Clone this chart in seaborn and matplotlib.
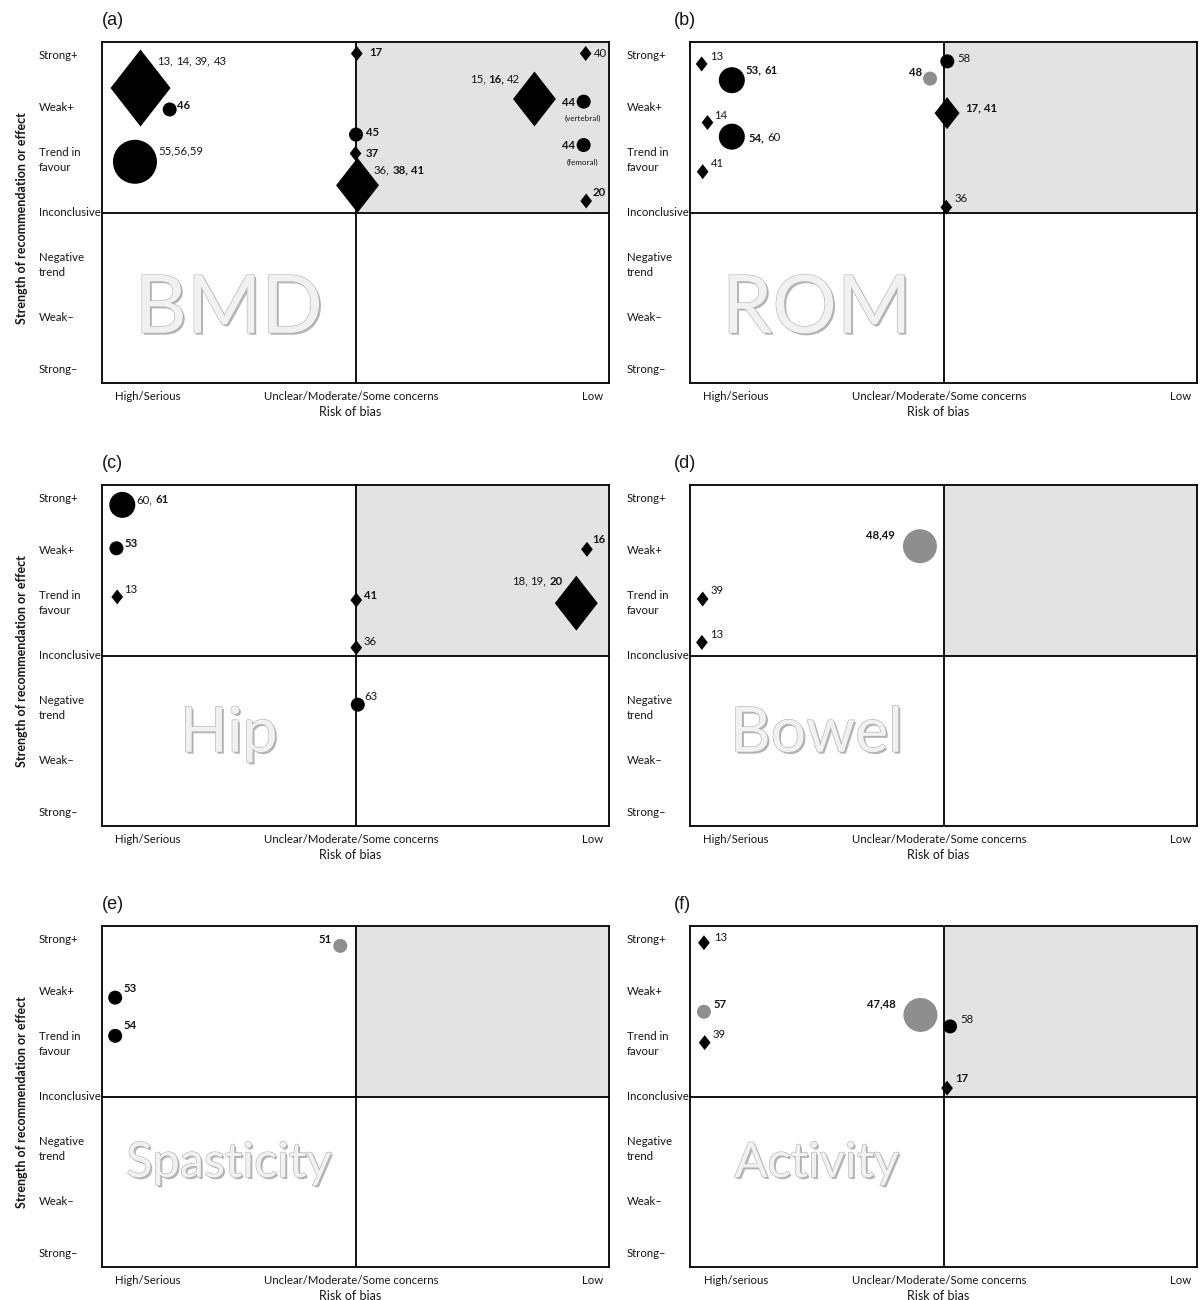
import re
import numpy as np
import pandas as pd
import matplotlib
matplotlib.use("Agg")
import matplotlib.pyplot as plt
import seaborn as sns
from matplotlib import patheffects as pe
from matplotlib.offsetbox import TextArea, HPacker, AnnotationBbox
from matplotlib.patches import Rectangle
from matplotlib.transforms import blended_transform_factory

# ---------------- axis categories ----------------
strength_ticks = [3, 2, 1, 0, -1, -2, -3]
strength_labels = ["Strong+", "Weak+", "Trend in\nfavour", "Inconclusive",
                   "Negative\ntrend", "Weak\u2013", "Strong\u2013"]
bias_ticks = [0.18, 0.985, 1.935]
bias_labels = ["High/Serious", "Unclear/Moderate/Some concerns", "Low"]
bias_labels_f = ["High/serious", "Unclear/Moderate/Some concerns", "Low"]

# ---------------- (a) BMD ----------------
# Study references (bold = marked with *), risk-of-bias position, strength, design
a_labels = ["13, 14, 39, 43", "*46*", "55,56,59", "*17*", "*45*", "*37*",
            "36, *38*, *41*", "40", "15, *16*, 42", "*44*", "*44*", "*20*"]
a_risk = [0.152, 0.267, 0.130, 1.005, 1.002, 1.000, 1.008, 1.908, 1.706, 1.900, 1.900, 1.910]
a_strength = [2.38, 1.97, 0.97, 3.04, 1.49, 1.13, 0.52, 3.04, 2.17, 2.12, 1.29, 0.22]
a_kind = ["diamond", "circle", "circle", "diamond", "circle", "diamond",
          "diamond", "diamond", "diamond", "circle", "circle", "diamond"]
a_notes = ["", "", "", "", "", "", "", "", "", "(vertebral)", "(femoral)", ""]

# ---------------- (b) ROM ----------------
b_labels = ["13", "*53, 61*", "*48*", "58", "*17, 41*", "14", "*54,* 60", "41", "36"]
b_risk = [0.046, 0.165, 0.947, 1.015, 1.014, 0.069, 0.165, 0.050, 1.011]
b_strength = [2.84, 2.53, 2.56, 2.89, 1.90, 1.72, 1.45, 0.78, 0.10]
b_kind = ["diamond", "circle", "grey", "circle", "diamond", "diamond", "circle", "diamond", "diamond"]

# ---------------- (c) Hip ----------------
c_labels = ["60, *61*", "*53*", "13", "*41*", "36", "63", "*16*", "18, 19, *20*"]
c_risk = [0.080, 0.057, 0.060, 1.003, 1.003, 1.009, 1.913, 1.871]
c_strength = [2.88, 2.05, 1.12, 1.06, 0.15, -0.94, 2.03, 1.00]
c_kind = ["circle", "circle", "diamond", "diamond", "diamond", "circle", "diamond", "diamond"]

# ---------------- (d) Bowel ----------------
d_labels = ["*48,49*", "39", "13"]
d_risk = [0.907, 0.050, 0.047]
d_strength = [2.09, 1.08, 0.25]
d_kind = ["grey", "diamond", "diamond"]

# ---------------- (e) Spasticity ----------------
e_labels = ["*51*", "*53*", "*54*"]
e_risk = [0.940, 0.052, 0.052]
e_strength = [2.88, 1.89, 1.16]
e_kind = ["grey", "circle", "circle"]

# ---------------- (f) Activity ----------------
f_labels = ["13", "*57*", "39", "*47,48*", "58", "*17*"]
f_risk = [0.055, 0.055, 0.058, 0.909, 1.026, 1.014]
f_strength = [2.94, 1.62, 1.03, 1.56, 1.34, 0.16]
f_kind = ["diamond", "grey", "diamond", "grey", "circle", "diamond"]

# ---------------- styling ----------------
YLIM = 3.26
SHADE = "#e3e3e3"
INK = "#151515"
PX2PT = 72 / 100

diamond = np.array([[0, 1], [0.78, 0], [0, -1], [-0.78, 0], [0, 1]])
MARKERS = {"diamond": diamond, "circle": "o", "grey": "o"}
COLORS = {"diamond": "black", "circle": "black", "grey": "#8e8e8e"}
# marker extent (pixels) by number of studies pooled in the mark
EXTENT_PX = {"diamond": {1: 15, 2: 32, 3: 55, 4: 77},
             "circle": {1: 14, 2: 26, 3: 44},
             "grey": {1: 14, 2: 34}}
SIZE_MAP = {k: {n: (px * PX2PT) ** 2 for n, px in v.items()} for k, v in EXTENT_PX.items()}

# label offsets from the mark centre, in pixels (negative dx -> label on the left)
a_off = [(17, 27), (7, 4), (23, 11), (12, 1), (10, 2), (10, 0), (16, 15), (8, 0),
         (-14, 20), (-9, -1), (-9, 0), (6, 8)]
b_off = [(8, 7), (14, 10), (-8, 6), (10, 3), (18, 5), (7, 7), (17, -1), (8, 8), (8, 9)]
c_off = [(14, 5), (8, 5), (7, 7), (8, 5), (7, 6), (7, 8), (5, 10), (-14, 22)]
d_off = [(-25, 11), (8, 9), (8, 8)]
e_off = [(-8, 6), (8, 9), (8, 10)]
f_off = [(10, 5), (10, 7), (8, 8), (-25, 11), (10, 7), (8, 10)]

sns.set_theme(style="white")
plt.rcParams["font.family"] = ["Lato", "DejaVu Sans"]

FIG_W, FIG_H = 1201, 1300
fig = plt.figure(figsize=(FIG_W / 100, FIG_H / 100), dpi=100)
fig.patch.set_facecolor("white")

AX_W, AX_H = 507, 341
col_left = [102, 690]
row_top = [42, 485, 926]


def make_ax(col, row):
    l = col_left[col] / FIG_W
    b = 1 - (row_top[row] + AX_H) / FIG_H
    return fig.add_axes([l, b, AX_W / FIG_W, AX_H / FIG_H])


def add_label(ax, x, y, text, dx, dy):
    parts = []
    for tok in text.split(" "):
        bold = "*" in tok
        parts.append(TextArea(tok.replace("*", ""),
                              textprops=dict(fontsize=8.2, color=INK,
                                             fontweight="bold" if bold else "normal")))
    box = HPacker(children=parts, align="baseline", pad=0, sep=2.1)
    ab = AnnotationBbox(box, (x, y), xybox=(dx * PX2PT, dy * PX2PT), xycoords="data",
                        boxcoords="offset points",
                        box_alignment=(0.0 if dx >= 0 else 1.0, 0.5),
                        frameon=False, pad=0, annotation_clip=False, zorder=6)
    ax.add_artist(ab)


def draw_panel(ax, letter, title, labels, risk, strength, kind, offsets,
               xlabels, left_col, wm_size, wm_y, notes=None):
    ax.add_patch(Rectangle((1, 0), 1, YLIM, facecolor=SHADE, edgecolor="none", zorder=0))
    ax.axvline(1, color="black", lw=1.3, zorder=1)
    ax.axhline(0, color="black", lw=1.3, zorder=1)

    df = pd.DataFrame({"risk": risk, "strength": strength, "kind": kind, "label": labels})
    df["n"] = df["label"].map(lambda s: len(re.findall(r"\d+", s)))
    for k, sub in df.groupby("kind"):
        sns.scatterplot(data=sub, x="risk", y="strength", size="n", sizes=SIZE_MAP[k],
                        marker=MARKERS[k], color=COLORS[k], edgecolor="none",
                        linewidth=0, legend=False, ax=ax, zorder=4)

    for (x, y, lab), (dx, dy) in zip(zip(risk, strength, labels), offsets):
        add_label(ax, x, y, lab, dx, dy)
    if notes:
        for x, y, note in zip(risk, strength, notes):
            if note:
                ax.annotate(note, (x, y), xytext=(-1 * PX2PT, -17 * PX2PT),
                            textcoords="offset points", ha="center", va="center",
                            fontsize=5.8, color=INK, zorder=6)

    ax.set_xlim(0, 2)
    ax.set_ylim(-YLIM, YLIM)
    for sp in ax.spines.values():
        sp.set_visible(True)
        sp.set_color("black")
        sp.set_linewidth(1.3)

    # embossed watermark naming the outcome: light face, grey bevelled rim
    ax.text(0.5, wm_y, title, ha="center", va="baseline", fontsize=wm_size,
            fontweight="normal", color="#f1f1f1", zorder=2,
            path_effects=[pe.SimplePatchShadow(offset=(1.4, -1.4), shadow_rgbFace="#858585",
                                               alpha=0.6),
                          pe.Stroke(linewidth=0.8, foreground="#adadad"), pe.Normal()])

    # y categories
    ax.set_yticks([])
    trans = blended_transform_factory(ax.transAxes, ax.transData)
    for t, lab in zip(strength_ticks, strength_labels):
        ax.text(-0.125, t, lab, transform=trans, ha="left", va="center", fontsize=8.2,
                color=INK, linespacing=1.45)

    # x categories
    ax.set_xticks(bias_ticks)
    ax.set_xticklabels(xlabels, fontsize=8.2, color=INK)
    ax.tick_params(axis="x", length=0, pad=6)
    ax.set_xlabel("Risk of bias", fontsize=9, color=INK)
    ax.xaxis.set_label_coords(0.49, -0.068)
    ax.set_ylabel("")

    if left_col:
        ax.text(-0.158, 0.484, "Strength of recommendation or effect", rotation=90,
                ha="center", va="center", transform=ax.transAxes, fontsize=9,
                fontweight="bold", color=INK)
    ax.text(0.0 if left_col else -0.032, 1.063, f"({letter})", transform=ax.transAxes,
            fontsize=13, family="Liberation Sans", ha="left", va="center", color=INK)


panels = [
    (0, 0, "a", "BMD", a_labels, a_risk, a_strength, a_kind, a_off, bias_labels, 58, -2.3, a_notes),
    (1, 0, "b", "ROM", b_labels, b_risk, b_strength, b_kind, b_off, bias_labels, 58, -2.3, None),
    (0, 1, "c", "Hip", c_labels, c_risk, c_strength, c_kind, c_off, bias_labels, 45, -1.84, None),
    (1, 1, "d", "Bowel", d_labels, d_risk, d_strength, d_kind, d_off, bias_labels, 45, -1.84, None),
    (0, 2, "e", "Spasticity", e_labels, e_risk, e_strength, e_kind, e_off, bias_labels, 35, -1.54, None),
    (1, 2, "f", "Activity", f_labels, f_risk, f_strength, f_kind, f_off, bias_labels_f, 35, -1.54, None),
]

for col, row, letter, title, labs, rsk, stg, knd, off, xl, wms, wmy, notes in panels:
    ax = make_ax(col, row)
    draw_panel(ax, letter, title, labs, rsk, stg, knd, off, xl, col == 0, wms, wmy, notes)

fig.savefig("out.png", dpi=100, facecolor="white")
